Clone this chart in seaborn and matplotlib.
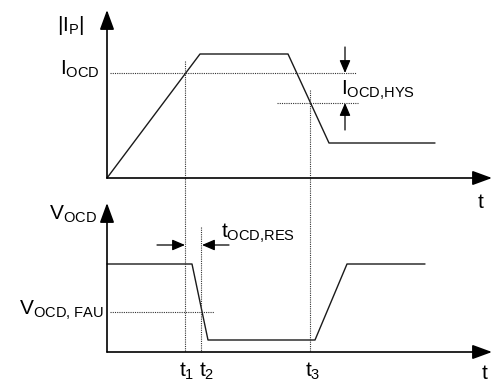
import matplotlib
matplotlib.use("Agg")
import matplotlib.pyplot as plt
import pandas as pd
import seaborn as sns

# ---- data (diagram units) ----
# top panel: |I_P| waveform
ip_time = [0, 93, 181, 222, 328]
ip_level = [0, 124, 124, 35, 35]
i_ocd = 105        # OCD threshold
i_ocd_low = 75     # threshold minus hysteresis
# bottom panel: V_OCD waveform
v_time = [0, 85, 101, 208, 240, 318]
v_level = [88, 88, 12, 12, 88, 88]
v_fau = 40
t_marks = [78, 94, 203]
t_names = ["1", "2", "3"]

sns.set_theme(style="white")
plt.rcParams["font.family"] = ["Liberation Sans", "DejaVu Sans"]
plt.rcParams["mathtext.fontset"] = "custom"
plt.rcParams["mathtext.rm"] = "Liberation Sans"
plt.rcParams["mathtext.it"] = "Liberation Sans"

fig = plt.figure(figsize=(4.92, 3.86), dpi=100)
ax = fig.add_axes([0, 0, 1, 1])

X0 = 107
Y_TOP = 178
Y_BOT = 352
wave_c = "#1a1a1a"

df_i = pd.DataFrame({"x": [X0 + t for t in ip_time], "y": [Y_TOP - v for v in ip_level]})
df_v = pd.DataFrame({"x": [X0 + t for t in v_time], "y": [Y_BOT - v for v in v_level]})
sns.lineplot(data=df_i, x="x", y="y", ax=ax, color=wave_c, lw=1.0, sort=False, estimator=None)
sns.lineplot(data=df_v, x="x", y="y", ax=ax, color=wave_c, lw=1.0, sort=False, estimator=None)
ax.set_xlim(0, 492)
ax.set_ylim(386, 0)
ax.axis("off")

def arrow(tail, tip, big=False):
    if big:
        style, ms, lw = "-|>,head_length=0.6,head_width=0.22", 20, 1.2
    else:
        style, ms, lw = "-|>,head_length=0.7,head_width=0.3", 11, 0.9
    ax.annotate("", xy=tip, xytext=tail,
                arrowprops=dict(arrowstyle=style, color="black", lw=lw,
                                mutation_scale=ms, shrinkA=0, shrinkB=0))

# axes
arrow((X0, Y_TOP), (X0, 10), big=True)
arrow((X0, Y_TOP), (492, Y_TOP), big=True)
arrow((X0, Y_BOT), (X0, 203), big=True)
arrow((X0, Y_BOT), (492, Y_BOT), big=True)

dot = dict(color="#333333", lw=0.8, ls=(0, (1, 1)))
# thresholds
ax.plot([110, 356], [Y_TOP - i_ocd] * 2, **dot)
ax.plot([277, 358], [Y_TOP - i_ocd_low] * 2, **dot)
ax.plot([110, 214], [Y_BOT - v_fau] * 2, **dot)
# vertical markers
tops = [61, 227, 90]
for t, top in zip(t_marks, tops):
    ax.plot([X0 + t] * 2, [top, Y_BOT], **dot)

# hysteresis arrows
arrow((345, 47), (345, Y_TOP - i_ocd))
arrow((345, 130), (345, Y_TOP - i_ocd_low))
# response time arrows
arrow((157, 245), (X0 + t_marks[0], 245))
arrow((229, 245), (X0 + t_marks[1] + 1, 245))

fs = 15
def lab(x, y, s, ha="left"):
    ax.text(x, y, s, fontsize=fs, ha=ha, va="baseline", color="black")

lab(57, 31, r"$|\mathrm{I_P}|$")
lab(60, 75, r"$\mathrm{I_{OCD}}$")
lab(341, 95, r"$\mathrm{I_{OCD{,}HYS}}$")
lab(478, 208, "t")
lab(49, 220, r"$\mathrm{V_{OCD}}$")
lab(19, 315, r"$\mathrm{V_{OCD{,}\ FAU}}$")
lab(221, 238, r"$\mathrm{t_{OCD{,}RES}}$")
label_x = [179, 199, 305]
for x, n in zip(label_x, t_names):
    lab(x, 377, r"$\mathrm{t_{%s}}$" % n)
lab(482, 379, "t")

fig.savefig("out.png", dpi=100)
